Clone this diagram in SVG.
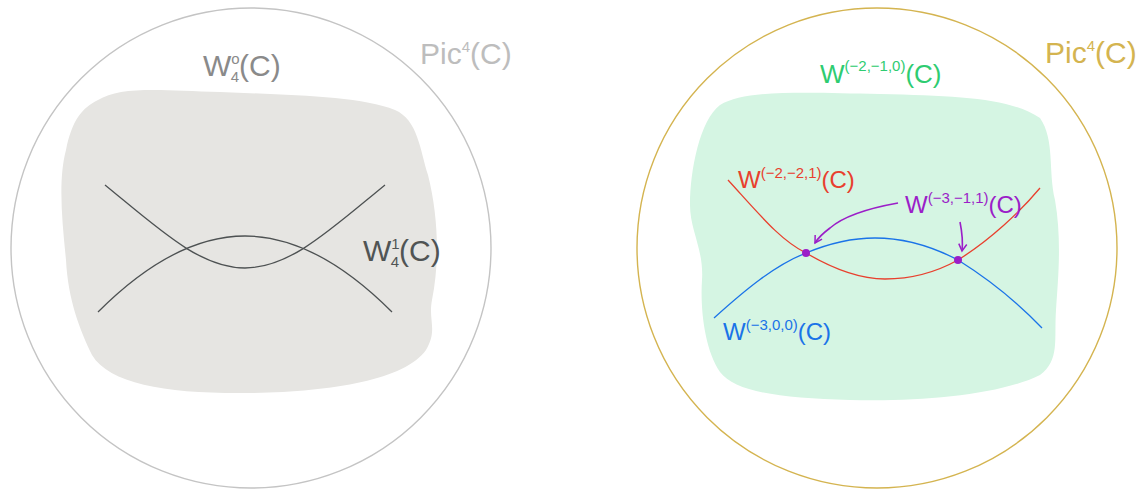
<svg xmlns="http://www.w3.org/2000/svg" width="1146" height="489" viewBox="0 0 1146 489">
<style>
.lbl{font-family:"Liberation Sans","DejaVu Sans",sans-serif;font-weight:300}
.big{font-size:30px}
.sup{font-size:15px}
.t{fill:none;stroke-width:1.3}
</style>
<defs>
<marker id="ah" markerWidth="10" markerHeight="10" refX="8" refY="5" orient="auto" markerUnits="userSpaceOnUse">
<path d="M1,1 L8,5 L1,9" fill="none" stroke="#9b1ec8" stroke-width="1.5"/>
</marker>
</defs>
<rect width="1146" height="489" fill="#ffffff"/>
<g id="left">
<circle cx="251" cy="248" r="240" fill="none" stroke="#c4c4c4" stroke-width="1.4"/>
<path d="M98,100 C120,86 160,90 220,92 C290,95 360,96 395,110 C418,120 420,150 428,175 C438,215 440,260 432,300 C428,320 438,330 426,350 C405,380 330,392 250,393 C170,394 110,385 92,355 C80,330 68,300 66,260 C62,220 58,180 66,150 C72,120 82,108 98,100 Z" fill="#e6e5e2"/>
<path class="t" stroke="#4d5152" d="M105,185 C160,230 200,268 245,268 C290,268 330,230 385,185"/>
<path class="t" stroke="#4d5152" d="M98,312 C150,260 200,236 245,236 C290,236 340,260 392,312"/>
<text class="lbl big" x="203" y="76" fill="#8a8a8a">W<tspan class="sup" dy="-12" dx="0">o</tspan><tspan class="sup" dy="18" dx="-9">4</tspan><tspan dy="-6">(C)</tspan></text>
<text class="lbl big" x="420" y="64" fill="#bdbdbd">Pic<tspan class="sup" dy="-12">4</tspan><tspan dy="12">(C)</tspan></text>
<text class="lbl big" x="363" y="261" fill="#505454">W<tspan class="sup" dy="-12">1</tspan><tspan class="sup" dy="18" dx="-9">4</tspan><tspan dy="-6">(C)</tspan></text>
</g>
<g id="right">
<circle cx="877" cy="248" r="240" fill="none" stroke="#d4b450" stroke-width="1.4"/>
<path d="M720,105 C745,90 800,92 880,94 C960,96 1010,98 1040,118 C1055,140 1048,170 1055,200 C1062,240 1058,280 1056,310 C1054,340 1060,360 1040,375 C1000,395 920,402 850,400 C780,398 735,392 720,372 C705,350 700,310 702,280 C704,250 690,230 690,205 C690,170 700,120 720,105 Z" fill="#d5f5e3"/>
<path class="t" stroke="#e8402e" d="M728,180 C760,215 780,240 806,253 C835,270 860,279 885,279 C915,279 940,270 958,260 C990,240 1020,212 1040,188"/>
<path class="t" stroke="#1a73e8" stroke-width="1.6" d="M714,318 C745,290 775,265 806,253 C830,243 855,238 875,238 C905,238 935,248 958,260 C990,280 1020,305 1042,328"/>
<text class="lbl" x="820" y="83" fill="#2ecc71" font-size="26">W<tspan class="sup" dy="-12" font-size="14">(−2,−1,0)</tspan><tspan dy="12">(C)</tspan></text>
<text class="lbl big" x="1045" y="63" fill="#d4b450">Pic<tspan class="sup" dy="-12">4</tspan><tspan dy="12">(C)</tspan></text>
<text class="lbl" x="738" y="188" fill="#e8402e" font-size="24">W<tspan class="sup" dy="-10" font-size="13">(−2,−2,1)</tspan><tspan dy="10">(C)</tspan></text>
<text class="lbl" x="905" y="213" fill="#9b1ec8" font-size="24">W<tspan class="sup" dy="-10" font-size="13">(−3,−1,1)</tspan><tspan dy="10">(C)</tspan></text>
<text class="lbl" x="723" y="340" fill="#1a73e8" font-size="24">W<tspan class="sup" dy="-10" font-size="13">(−3,0,0)</tspan><tspan dy="10">(C)</tspan></text>
</g>
<g id="connectors">
<path d="M898,203 C870,208 845,215 830,228 C822,234 818,238 815,243" fill="none" stroke="#9b1ec8" stroke-width="1.6" marker-end="url(#ah)"/>
<path d="M960,222 C962,232 963,242 962,251" fill="none" stroke="#9b1ec8" stroke-width="1.6" marker-end="url(#ah)"/>
</g>
<g id="points">
<circle cx="806" cy="253" r="4" fill="#9b1ec8"/>
<circle cx="958" cy="260" r="4" fill="#9b1ec8"/>
</g>
</svg>
